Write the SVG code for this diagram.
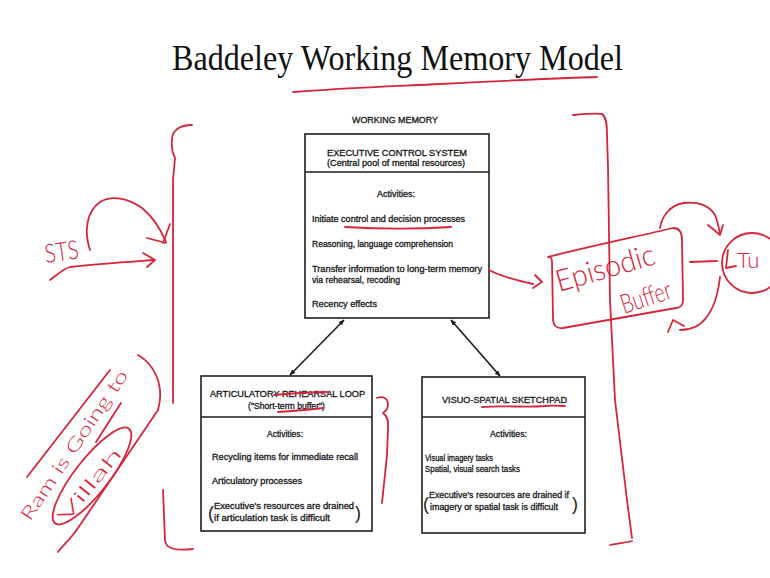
<svg xmlns="http://www.w3.org/2000/svg" width="770" height="578" viewBox="0 0 770 578">
  <defs>
    <style>
      .box { fill: #ffffff; stroke: #1e1e1e; stroke-width: 1.6; }
      .div { stroke: #1e1e1e; stroke-width: 1.4; }
      .t { font-family: "Liberation Sans", Arial, sans-serif; font-size: 9px; fill: #161616; stroke: #161616; stroke-width: 0.3; }
      .paren { font-family: "Liberation Sans", Arial, sans-serif; font-size: 18px; fill: #1a1a1a; }
      .title { font-family: "Liberation Serif", "Times New Roman", serif; font-size: 36px; fill: #111; }
      .conn { stroke: #1e1e1e; stroke-width: 1.6; fill: none; }
      .ink { fill: none; stroke: #d3263a; stroke-width: 1.8; stroke-linecap: round; stroke-linejoin: round; }
      .hand { font-family: Lato, "Open Sans", Inter, "DejaVu Sans", sans-serif; font-weight: 300; fill: #d3263a; }
    </style>
    <marker id="tip" viewBox="0 0 10 10" refX="9" refY="5" markerWidth="6" markerHeight="6" orient="auto-start-reverse" markerUnits="userSpaceOnUse">
      <path d="M0,1 L10,5 L0,9 Z" fill="#1e1e1e"/>
    </marker>
  </defs>

  <rect width="770" height="578" fill="#ffffff"/>

  <!-- Heading -->
  <g id="title">
    <text class="title" x="172" y="70" textLength="451" lengthAdjust="spacingAndGlyphs">Baddeley Working Memory Model</text>
  </g>

  <g id="working-memory-label">
    <text class="t" x="352" y="123" textLength="86" lengthAdjust="spacingAndGlyphs">WORKING MEMORY</text>
  </g>

  <!-- Central executive -->
  <g id="executive">
    <rect class="box" x="305" y="134" width="184" height="184"/>
    <line class="div" x1="305" y1="172" x2="489" y2="172"/>
    <text class="t" x="327" y="156" textLength="140" lengthAdjust="spacingAndGlyphs">EXECUTIVE CONTROL SYSTEM</text>
    <text class="t" x="327" y="166" textLength="138" lengthAdjust="spacingAndGlyphs">(Central pool of mental resources)</text>
    <text class="t" x="377" y="197" textLength="38" lengthAdjust="spacingAndGlyphs">Activities:</text>
    <text class="t" x="312" y="222" textLength="153" lengthAdjust="spacingAndGlyphs">Initiate control and decision processes</text>
    <text class="t" x="312" y="247" textLength="141" lengthAdjust="spacingAndGlyphs">Reasoning, language comprehension</text>
    <text class="t" x="312" y="272" textLength="170" lengthAdjust="spacingAndGlyphs">Transfer information to long-term memory</text>
    <text class="t" x="312" y="283" textLength="88" lengthAdjust="spacingAndGlyphs">via rehearsal, recoding</text>
    <text class="t" x="312" y="307" textLength="65" lengthAdjust="spacingAndGlyphs">Recency effects</text>
  </g>

  <!-- Phonological loop -->
  <g id="articulatory-loop">
    <rect class="box" x="201" y="376" width="171" height="155"/>
    <line class="div" x1="201" y1="417" x2="372" y2="417"/>
    <text class="t" x="210" y="397" textLength="155" lengthAdjust="spacingAndGlyphs">ARTICULATORY REHEARSAL LOOP</text>
    <text class="t" x="248" y="409" textLength="77" lengthAdjust="spacingAndGlyphs">("Short-term buffer")</text>
    <text class="t" x="267" y="437" textLength="36" lengthAdjust="spacingAndGlyphs">Activities:</text>
    <text class="t" x="212" y="460" textLength="146" lengthAdjust="spacingAndGlyphs">Recycling items for immediate recall</text>
    <text class="t" x="212" y="484" textLength="90" lengthAdjust="spacingAndGlyphs">Articulatory processes</text>
    <text class="paren" x="208" y="519">(</text>
    <text class="t" x="214" y="509" textLength="140" lengthAdjust="spacingAndGlyphs">Executive's resources are drained</text>
    <text class="t" x="214" y="521" textLength="116" lengthAdjust="spacingAndGlyphs">if articulation task is difficult</text>
    <text class="paren" x="355" y="519">)</text>
  </g>

  <!-- Visuo-spatial sketchpad -->
  <g id="visuo-spatial-sketchpad">
    <rect class="box" x="422" y="377" width="163" height="156"/>
    <line class="div" x1="422" y1="417" x2="585" y2="417"/>
    <text class="t" x="442" y="403" textLength="125" lengthAdjust="spacingAndGlyphs">VISUO-SPATIAL SKETCHPAD</text>
    <text class="t" x="490" y="437" textLength="37" lengthAdjust="spacingAndGlyphs">Activities:</text>
    <text class="t" x="425" y="461" textLength="68" lengthAdjust="spacingAndGlyphs">Visual imagery tasks</text>
    <text class="t" x="425" y="472" textLength="95" lengthAdjust="spacingAndGlyphs">Spatial, visual search tasks</text>
    <text class="paren" x="423" y="510">(</text>
    <text class="t" x="429" y="498" textLength="140" lengthAdjust="spacingAndGlyphs">Executive's resources are drained if</text>
    <text class="t" x="430" y="510" textLength="128" lengthAdjust="spacingAndGlyphs">imagery or spatial task is difficult</text>
    <text class="paren" x="572" y="510">)</text>
  </g>

  <!-- Two-way links from the executive to its slave systems -->
  <g id="connectors">
    <line class="conn" x1="344" y1="320" x2="290" y2="375" marker-start="url(#tip)" marker-end="url(#tip)"/>
    <line class="conn" x1="451" y1="320" x2="500" y2="376" marker-start="url(#tip)" marker-end="url(#tip)"/>
  </g>

  <!-- Hand-drawn pen marks -->
  <g id="annotations">
    <!-- underlines -->
    <path class="ink" d="M293,92 C340,88 400,86 440,84 C500,81 560,78 597,77"/>
    <path class="ink" d="M345,227 C380,229 420,229 451,227"/>
    <path class="ink" d="M274,395 C295,393 312,392 329,392"/>
    <path class="ink" d="M278,412 C293,411 308,410 323,408"/>
    <path class="ink" d="M482,407 C505,405 525,408 545,406 C552,405 560,406 565,406"/>

    <!-- left brace -->
    <path class="ink" d="M192,125 C180,125 172,130 172,140 C171,148 172,152 175,158 L173,180 L173,403"/>
    <path class="ink" d="M163,490 L165,540 C166,548 172,551 193,549"/>

    <!-- right brace -->
    <path class="ink" d="M573,115 C585,114 595,113 602,114 C606,117 607,123 607,135 L608,167 L610,300 L615,400 L627,500 L632,538"/>
    <path class="ink" d="M610,545 C618,543 626,543 632,541"/>

    <!-- brace beside the loop -->
    <path class="ink" d="M377,398 C382,396 388,397 388,405 C388,410 384,412 383,413 C387,416 389,420 388,428 L387,455 L382,503"/>

    <!-- STS arrows -->
    <text class="hand" x="46" y="263" font-size="26" textLength="34" lengthAdjust="spacingAndGlyphs" transform="rotate(-8 46 263)">STS</text>
    <path class="ink" d="M90,250 C84,232 86,212 100,202 C112,195 128,198 142,208 C152,216 160,228 166,242"/>
    <path class="ink" d="M147,238 L166,243 M170,224 L163,243"/>
    <path class="ink" d="M50,280 C58,274 63,269 70,267 C95,264 125,262 153,260"/>
    <path class="ink" d="M143,253 L155,260 L147,267"/>

    <!-- rotated note -->
    <text class="hand" x="30" y="522" font-size="18" textLength="177" lengthAdjust="spacingAndGlyphs" transform="rotate(-56 30 522)">Ram is Going to</text>
    <path class="ink" d="M27,477 L110,370"/>
    <path class="ink" d="M121,403 L96,442"/>
    <ellipse class="ink" cx="92" cy="476" rx="60" ry="17" transform="rotate(-52 92 476)"/>
    <text class="hand" x="66" y="524" font-size="18" textLength="90" lengthAdjust="spacingAndGlyphs" transform="rotate(-51 66 524)">Villah</text>
    <path class="ink" d="M138,355 C154,364 165,385 158,410 L78,528 C70,540 62,546 58,552"/>

    <!-- episodic buffer -->
    <path class="ink" d="M489,270 C500,276 515,280 533,284"/>
    <path class="ink" d="M535,275 L542,282 L533,288"/>
    <path class="ink" d="M548,257 C600,244 640,236 673,228 C679,228 682,232 682,240 L683,300 C683,305 680,308 676,308 L563,328 C556,329 553,325 553,318 L552,262 C552,258 550,256 548,257"/>
    <text class="hand" x="559" y="292" font-size="30" textLength="102" lengthAdjust="spacingAndGlyphs" transform="rotate(-16 559 292)">Episodic</text>
    <text class="hand" x="624" y="314" font-size="27" textLength="52" lengthAdjust="spacingAndGlyphs" transform="rotate(-18 624 314)">Buffer</text>
    <path class="ink" d="M660,228 C662,216 670,205 684,203 C698,201 710,206 715,215 C718,222 719,228 720,234"/>
    <path class="ink" d="M708,225 L720,235 L723,225"/>
    <path class="ink" d="M690,262 L717,261"/>
    <circle class="ink" cx="752" cy="263" r="30"/>
    <path class="ink" d="M728,250 L726,268 L736,266"/>
    <text class="hand" x="737" y="268" font-size="22">Tu</text>
    <path class="ink" d="M720,277 C718,295 714,308 706,318 C700,326 690,330 680,330"/>
    <path class="ink" d="M668,332 L673,320 L684,326"/>
  </g>
</svg>
